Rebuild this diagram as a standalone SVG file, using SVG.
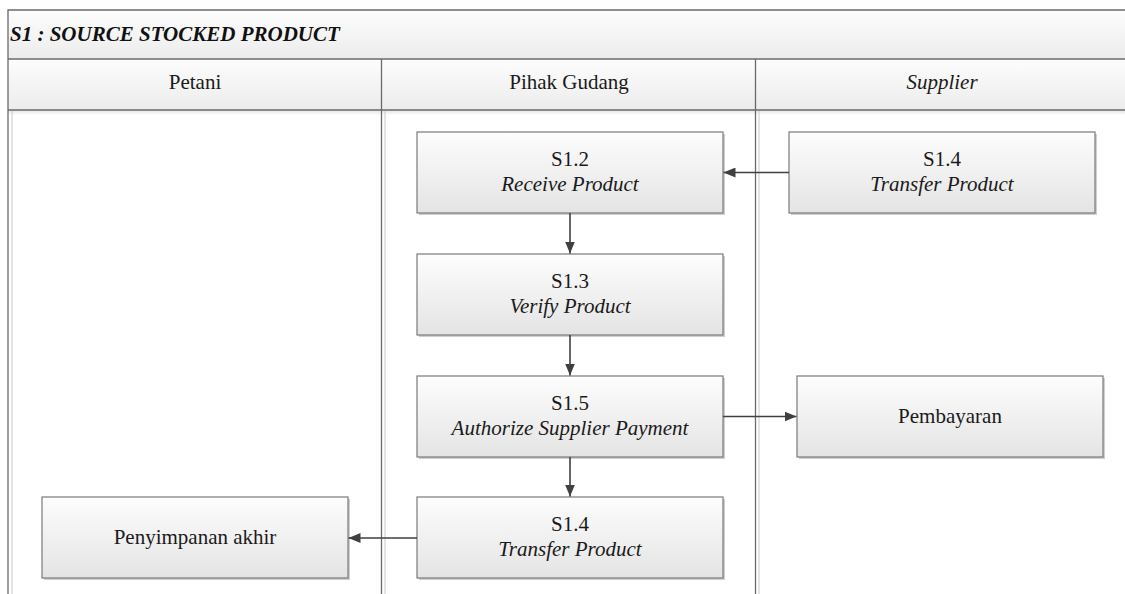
<svg xmlns="http://www.w3.org/2000/svg" width="1125" height="594" viewBox="0 0 1125 594">
<defs>
<linearGradient id="boxg" x1="0" y1="0" x2="0" y2="1">
<stop offset="0" stop-color="#fdfdfd"/>
<stop offset="1" stop-color="#e4e4e4"/>
</linearGradient>
<linearGradient id="hdrg" x1="0" y1="0" x2="0" y2="1">
<stop offset="0" stop-color="#fdfdfd"/>
<stop offset="1" stop-color="#ececec"/>
</linearGradient>
<linearGradient id="shd" x1="0" y1="0" x2="0" y2="1">
<stop offset="0" stop-color="#e2e2e2"/>
<stop offset="1" stop-color="#ffffff"/>
</linearGradient>
<marker id="arr" viewBox="0 0 12 10" refX="12" refY="5" markerWidth="12" markerHeight="10" markerUnits="userSpaceOnUse" orient="auto">
<path d="M0,0 L12,5 L0,10 Z" fill="#404040"/>
</marker>
</defs>
<style>
.frame{fill:none;stroke:#6a6a6a;stroke-width:1.3}
.faint{stroke:#c8c8c8;stroke-width:1}
.box{fill:url(#boxg);stroke:#7a7a7a;stroke-width:1.2}
.sh{fill:#cfcfcf}
.t{font-size:21px;fill:#1a1a1a;text-anchor:middle}
.i{font-style:italic}
.title{font-size:21px;font-weight:bold;font-style:italic;fill:#111}
.conn{fill:none;stroke:#404040;stroke-width:1.6;marker-end:url(#arr)}
</style>
<rect width="1125" height="594" fill="#ffffff"/>
<g id="pool">
<rect x="8" y="10" width="1125" height="49" fill="url(#hdrg)"/>
<rect x="8" y="59" width="1125" height="51" fill="url(#hdrg)"/>
<rect x="8" y="110" width="1125" height="5" fill="url(#shd)"/>
<path class="frame" d="M8,594 V10 H1130"/>
<line class="frame" x1="8" y1="59" x2="1130" y2="59"/>
<line class="frame" x1="8" y1="110" x2="1130" y2="110" stroke-width="1.8"/>
<line class="frame" x1="381.5" y1="59" x2="381.5" y2="594"/>
<line class="frame" x1="755.5" y1="59" x2="755.5" y2="594"/>
<line class="faint" x1="12" y1="111" x2="12" y2="594"/>
<line class="faint" x1="385" y1="111" x2="385" y2="594"/>
<line class="faint" x1="759" y1="111" x2="759" y2="594"/>
<text class="title" x="10" y="41" style="font-family:'Liberation Serif',serif">S1 : SOURCE STOCKED PRODUCT</text>
<text class="t" x="195" y="89" style="font-family:'Liberation Serif',serif">Petani</text>
<text class="t" x="569" y="89" style="font-family:'Liberation Serif',serif">Pihak Gudang</text>
<text class="t i" x="942" y="89" style="font-family:'Liberation Serif',serif">Supplier</text>
</g>
<g id="n-s12">
<rect class="sh" x="419" y="134" width="306" height="81"/>
<rect class="box" x="417" y="132" width="306" height="81"/>
<text class="t" x="570" y="166" style="font-family:'Liberation Serif',serif">S1.2</text>
<text class="t i" x="570" y="191" style="font-family:'Liberation Serif',serif">Receive Product</text>
</g>
<g id="n-s14-supplier">
<rect class="sh" x="791" y="134" width="306" height="81"/>
<rect class="box" x="789" y="132" width="306" height="81"/>
<text class="t" x="942" y="166" style="font-family:'Liberation Serif',serif">S1.4</text>
<text class="t i" x="942" y="191" style="font-family:'Liberation Serif',serif">Transfer Product</text>
</g>
<g id="n-s13">
<rect class="sh" x="419" y="256" width="306" height="81"/>
<rect class="box" x="417" y="254" width="306" height="81"/>
<text class="t" x="570" y="288" style="font-family:'Liberation Serif',serif">S1.3</text>
<text class="t i" x="570" y="313" style="font-family:'Liberation Serif',serif">Verify Product</text>
</g>
<g id="n-s15">
<rect class="sh" x="419" y="378" width="306" height="81"/>
<rect class="box" x="417" y="376" width="306" height="81"/>
<text class="t" x="570" y="410" style="font-family:'Liberation Serif',serif">S1.5</text>
<text class="t i" x="570" y="435" style="font-family:'Liberation Serif',serif">Authorize Supplier Payment</text>
</g>
<g id="n-pembayaran">
<rect class="sh" x="799" y="378" width="306" height="81"/>
<rect class="box" x="797" y="376" width="306" height="81"/>
<text class="t" x="950" y="423" style="font-family:'Liberation Serif',serif">Pembayaran</text>
</g>
<g id="n-s14-gudang">
<rect class="sh" x="419" y="499" width="306" height="81"/>
<rect class="box" x="417" y="497" width="306" height="81"/>
<text class="t" x="570" y="531" style="font-family:'Liberation Serif',serif">S1.4</text>
<text class="t i" x="570" y="556" style="font-family:'Liberation Serif',serif">Transfer Product</text>
</g>
<g id="n-penyimpanan">
<rect class="sh" x="44" y="499" width="306" height="81"/>
<rect class="box" x="42" y="497" width="306" height="81"/>
<text class="t" x="195" y="544" style="font-family:'Liberation Serif',serif">Penyimpanan akhir</text>
</g>
<g id="connectors">
<line class="conn" x1="789" y1="172.5" x2="723.5" y2="172.5"/>
<line class="conn" x1="570" y1="213" x2="570" y2="253.5"/>
<line class="conn" x1="570" y1="335" x2="570" y2="375.5"/>
<line class="conn" x1="723" y1="416.5" x2="796.5" y2="416.5"/>
<line class="conn" x1="570" y1="457" x2="570" y2="496.5"/>
<line class="conn" x1="417" y1="538" x2="348.5" y2="538"/>
</g>
</svg>
